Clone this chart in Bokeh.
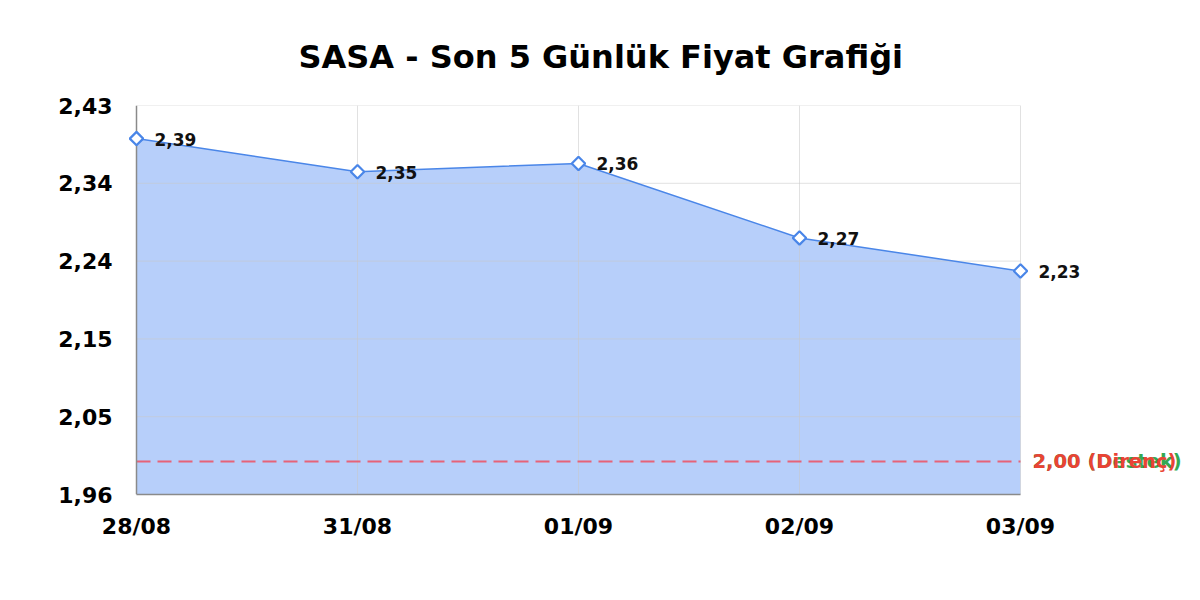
from bokeh.plotting import figure
from bokeh.models import ColumnDataSource, FixedTicker, LabelSet, Label, Title
from bokeh.core.properties import value
from bokeh.embed import file_html
from bokeh.resources import INLINE

dates = ["28/08", "31/08", "01/09", "02/09", "03/09"]
prices = [2.39, 2.35, 2.36, 2.27, 2.23]
price_labels = ["2,39", "2,35", "2,36", "2,27", "2,23"]
y_ticks = [1.96, 2.054, 2.148, 2.242, 2.336, 2.43]
y_tick_labels = ["1,96", "2,05", "2,15", "2,24", "2,34", "2,43"]
resistance = 2.00
resistance_label = "2,00 (Direnç)"
support = 2.00
support_label = "2,00 (Destek)"

FONT = "DejaVu Sans"

# layout (pixels)
W, H = 1184, 584
AX_LEFT, AX_RIGHT, AX_TOP, AX_BOTTOM = 136, 1020, 105, 494
PAD_L = 14  # room so the first marker is not clipped

xs = list(range(len(dates)))
ppu = (AX_RIGHT - AX_LEFT) / (xs[-1] - xs[0])
x_start = xs[0] - PAD_L / ppu
x_end = xs[-1] + (W - AX_RIGHT) / ppu

y0, y1 = y_ticks[0], y_ticks[-1]
src = ColumnDataSource(dict(x=xs, y=prices, lbl=price_labels, base=[y0] * len(xs)))

p = figure(width=W, height=H, output_backend="svg", toolbar_location=None,
           x_range=(x_start, x_end), y_range=(y0, y1),
           min_border_left=AX_LEFT - PAD_L, min_border_right=0,
           min_border_top=AX_TOP, min_border_bottom=H - AX_BOTTOM)
p.title = Title(text="SASA - Son 5 Günlük Fiyat Grafiği", align="left",
                text_font=FONT, text_font_size="32px", text_font_style="bold",
                text_color="#000000", standoff=59, offset=176)
p.outline_line_color = None
p.background_fill_color = "white"
p.xgrid.visible = False
p.ygrid.visible = False

p.varea(x="x", y1="base", y2="y", source=src, fill_color="#b7cffa", fill_alpha=1.0)

# grid lines (over the fill, faint)
p.segment(x0=[xs[0]] * len(y_ticks), x1=[xs[-1]] * len(y_ticks), y0=y_ticks, y1=y_ticks,
          line_color="#c8c8c8", line_alpha=0.55, line_width=1)
p.segment(x0=xs[1:], x1=xs[1:], y0=[y0] * (len(xs) - 1), y1=[y1] * (len(xs) - 1),
          line_color="#c8c8c8", line_alpha=0.55, line_width=1)

# support / resistance lines (support hidden under resistance, as in the source)
p.line(x=[xs[0], xs[-1]], y=[support, support], line_color="#34a853",
       line_width=2, line_dash="14 7", line_alpha=0.0)
p.line(x=[xs[0], xs[-1]], y=[resistance, resistance], line_color="#ef5060",
       line_width=2, line_dash="14 7", line_alpha=0.85)

# y axis line drawn at x = first date
p.segment(x0=[xs[0]], x1=[xs[0]], y0=[y0], y1=[y1], line_color="#8a8a8a", line_width=1.5)

p.line(x="x", y="y", source=src, line_color="#4a86e8", line_width=1.5)
p.scatter(x="x", y="y", source=src, marker="square", angle=0.785398, size=9.5,
          fill_color="white", line_color="#4a86e8", line_width=2.2)

p.add_layout(Label(x=xs[-1], y=support, text=support_label, x_offset=12, y_offset=0,
                   text_baseline="middle", text_font=FONT, text_font_size="19.5px",
                   text_font_style="bold", text_color="#34a853"))
p.add_layout(Label(x=xs[-1], y=resistance, text=resistance_label, x_offset=12, y_offset=0,
                   text_baseline="middle", text_font=FONT, text_font_size="19.5px",
                   text_font_style="bold", text_color="#ea4335"))

p.add_layout(LabelSet(x="x", y="y", text="lbl", source=src, x_offset=18, y_offset=-0.5,
                      text_baseline="middle", text_font=value(FONT),
                      text_font_size=value("17px"), text_font_style=value("bold"),
                      text_color=value("#111111")))

p.xaxis.ticker = FixedTicker(ticks=xs)
p.xaxis.major_label_overrides = {i: d for i, d in zip(xs, dates)}
p.xaxis.bounds = (xs[0], xs[-1])
p.yaxis.ticker = FixedTicker(ticks=y_ticks)
p.yaxis.major_label_overrides = {t: l for t, l in zip(y_ticks, y_tick_labels)}
p.yaxis.axis_line_color = None
for ax in (p.xaxis, p.yaxis):
    ax.major_tick_line_color = None
    ax.minor_tick_line_color = None
    ax.major_label_text_font = FONT
    ax.major_label_text_font_size = "22px"
    ax.major_label_text_font_style = "bold"
    ax.major_label_text_color = "#000000"
p.xaxis.axis_line_color = "#8a8a8a"
p.xaxis.axis_line_width = 1.5
p.xaxis.major_label_standoff = 13
p.yaxis.major_label_standoff = 4

open("out.html", "w").write(file_html(p, INLINE))
